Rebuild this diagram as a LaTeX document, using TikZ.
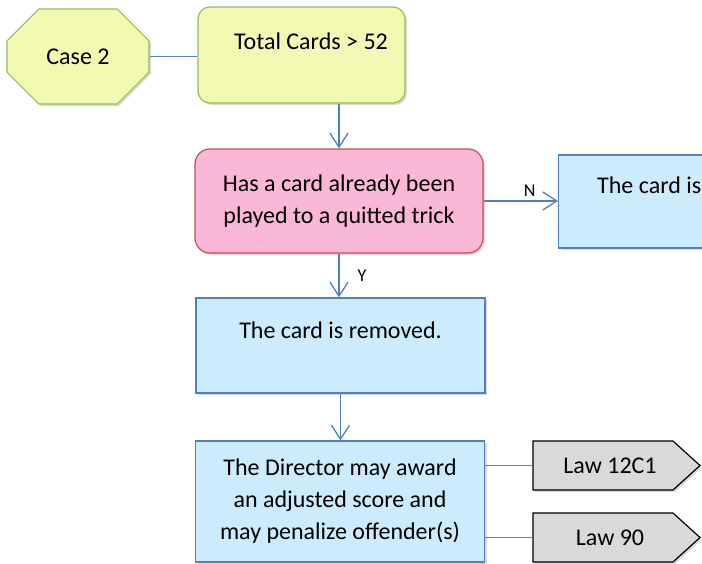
\documentclass[tikz,border=0pt]{standalone}
\usepackage{fontspec}
\setmainfont{Carlito}
\usepackage{xcolor}
\usetikzlibrary{positioning,arrows.meta,shapes.geometric,shapes.misc,shadows}

\definecolor{lineblue}{RGB}{79,129,189}
\definecolor{boxblue}{RGB}{204,235,253}
\definecolor{boxyellow}{RGB}{243,249,178}
\definecolor{edgegreen}{RGB}{155,187,89}
\definecolor{boxpink}{RGB}{251,184,214}
\definecolor{edgered}{RGB}{192,80,77}
\definecolor{lawgray}{RGB}{217,217,217}

\begin{document}
\begin{tikzpicture}[x=1pt, y=-1pt,
        every node/.style={font=\fontsize{24}{32}\selectfont},
        shade/.style={drop shadow={shadow xshift=2pt, shadow yshift=-2pt, opacity=0.3}},
        start/.style={draw=edgegreen, fill=boxyellow, line width=1.2pt, chamfered rectangle,
                      chamfered rectangle xsep=25pt, chamfered rectangle ysep=24pt,
                      minimum width=142pt, minimum height=95pt, inner sep=0pt, shade},
        cond/.style={draw=edgegreen, fill=boxyellow, line width=1.2pt, rectangle,
                     rounded corners=12pt, minimum width=207pt, minimum height=96pt, shade},
        quest/.style={draw=edgered, fill=boxpink, line width=1.2pt, rectangle,
                      rounded corners=15pt, minimum width=288pt, minimum height=104pt,
                      align=center, shade},
        act/.style={draw=lineblue, fill=boxblue, line width=1.2pt, rectangle,
                    minimum width=289pt, align=center, shade},
        lawshape/.style={draw=black, fill=lawgray, line width=1.2pt, shade},
        flow/.style={draw=lineblue, line width=1.3pt, -{Straight Barb[length=14pt,width=18pt,line width=1.3pt]}},
        link/.style={draw=lineblue, line width=1.3pt},
        tag/.style={font=\fontsize{18}{20}\selectfont, inner sep=0pt}
    ]
        \useasboundingbox (0,0) rectangle (702,563);

        \node[start] (case) at (78,56.5) {Case 2};
        \node[cond, text height=39pt, text depth=50pt] (total) at (301.5,55)
            {\hspace*{19pt}Total Cards > 52};
        \node[quest] (played) at (339,201) {Has a card already been\\played to a quitted trick};
        \node[act, minimum height=93pt, anchor=west] (keep) at (558,201.5) {};
        \node[anchor=base west, inner sep=0pt] (keeptext) at (597,193) {The card is};
        \node[act, minimum height=95pt, text height=37pt, text depth=51pt] (removed) at (340.5,345.5)
            {The card is removed.};
        \node[act, minimum height=121pt] (director) at (340,501.5)
            {The Director may award\\an adjusted score and\\may penalize offender(s)};

        % law references
        \coordinate (law12) at (603,465.5);
        \coordinate (law90) at (603,537.5);
        \draw[lawshape] ([shift={(-70,-24.5)}]law12) -- ++(140,0) -- ++(27,24.5)
            -- ++(-27,24.5) -- ++(-140,0) -- cycle;
        \draw[lawshape] ([shift={(-70,-24.5)}]law90) -- ++(140,0) -- ++(27,24.5)
            -- ++(-27,24.5) -- ++(-140,0) -- cycle;
        \node (law12text) at ([xshift=7pt]law12) {Law 12C1};
        \node (law90text) at ([xshift=7pt]law90) {Law 90};

        \draw[link] (case.east) -- (total.west |- case.east);
        \draw[flow] (played.north |- total.south) -- (played.north);
        \draw[flow] (played.east) -- (keep.west |- played.east)
            node[tag, pos=0.62, above=4pt] (no) {N};
        \draw[flow] (played.south) -- (played.south |- removed.north)
            node[tag, midway, right=18pt] (yes) {Y};
        \draw[flow] (removed.south) -- (removed.south |- director.north);
        \draw[link] (director.east |- law12) -- ([xshift=-70pt]law12);
        \draw[link] (director.east |- law90) -- ([xshift=-70pt]law90);
    \end{tikzpicture}
\end{document}
